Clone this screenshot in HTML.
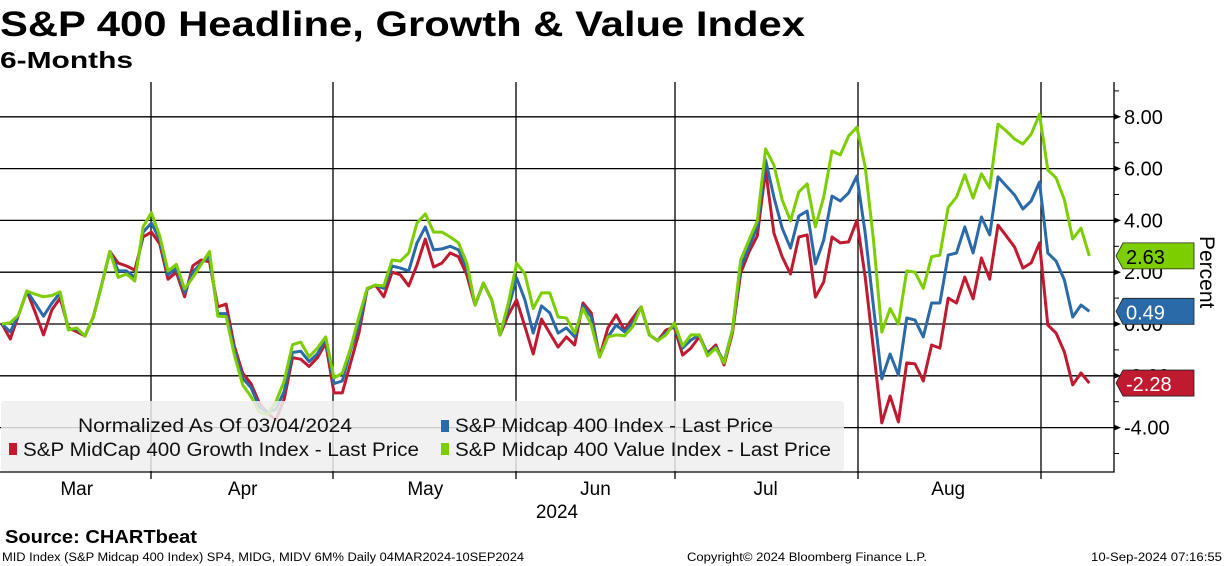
<!DOCTYPE html>
<html><head><meta charset="utf-8"><style>
body{margin:0;background:#fff;width:1224px;height:566px;overflow:hidden}
svg{display:block;font-family:"Liberation Sans",sans-serif}
</style></head><body>
<svg id="chart" width="1224" height="566">
<text x="0" y="36" font-size="35" font-weight="bold" textLength="805" lengthAdjust="spacingAndGlyphs">S&amp;P 400 Headline, Growth &amp; Value Index</text>
<text x="0" y="68" font-size="23" font-weight="bold" textLength="133" lengthAdjust="spacingAndGlyphs">6-Months</text>
<g id="grid"></g>
<g id="series"></g>
<g id="legend">
<rect x="1" y="401" width="843" height="70" rx="3" fill="#efefef" fill-opacity="0.85"/>
<text x="78" y="432" font-size="19" textLength="274" lengthAdjust="spacingAndGlyphs" fill="#111">Normalized As Of 03/04/2024</text>
<rect x="441" y="420" width="8" height="12" fill="#2a6aa8"/>
<text x="455" y="432" font-size="19" textLength="318" lengthAdjust="spacingAndGlyphs" fill="#111">S&amp;P Midcap 400 Index - Last Price</text>
<rect x="9" y="443" width="8" height="12" fill="#bf1a2f"/>
<text x="23" y="456" font-size="19" textLength="396" lengthAdjust="spacingAndGlyphs" fill="#111">S&amp;P MidCap 400 Growth Index - Last Price</text>
<rect x="441" y="443" width="8" height="12" fill="#7dce00"/>
<text x="455" y="456" font-size="19" textLength="376" lengthAdjust="spacingAndGlyphs" fill="#111">S&amp;P Midcap 400 Value Index - Last Price</text>
</g>
<g id="axes"></g>
<text x="1200" y="236" font-size="21" transform="rotate(90 1200 236)">Percent</text>
<text x="5" y="543" font-size="18" font-weight="bold" textLength="192" lengthAdjust="spacingAndGlyphs">Source: CHARTbeat</text>
<text x="2" y="561" font-size="11.5" textLength="522" lengthAdjust="spacingAndGlyphs">MID Index (S&amp;P Midcap 400 Index) SP4, MIDG, MIDV 6M%  Daily 04MAR2024-10SEP2024</text>
<text x="687" y="561" font-size="11.5" textLength="240" lengthAdjust="spacingAndGlyphs">Copyright© 2024 Bloomberg Finance L.P.</text>
<text x="1091" y="561" font-size="11.5" textLength="131" lengthAdjust="spacingAndGlyphs">10-Sep-2024 07:16:55</text>
</svg>
<script>
const growth=[0,-0.58,0.35,1.27,0.45,-0.42,0.54,1.0,-0.15,-0.3,-0.46,0.27,1.5,2.8,2.35,2.24,2.08,3.36,3.55,3.1,1.73,2.0,1.05,2.25,2.47,2.4,0.66,0.77,-0.87,-1.9,-2.3,-3.05,-3.45,-3.7,-2.9,-1.3,-1.36,-1.64,-1.3,-0.74,-2.66,-2.66,-1.5,-0.35,1.35,1.5,1.05,2.0,1.9,1.47,2.28,3.28,2.2,2.35,2.74,2.6,1.9,0.73,1.58,0.93,-0.42,0.35,0.93,-0.1,-1.16,0.19,-0.35,-0.89,-0.5,-0.81,0.81,0.42,-1.27,-0.15,0.35,-0.23,0.23,0.66,-0.42,-0.65,-0.23,-0.12,-1.2,-0.93,-0.5,-1.12,-0.81,-1.58,-0.35,1.97,2.78,3.4,5.95,3.51,2.59,1.93,3.36,3.44,1.04,1.62,3.36,3.13,3.17,4.0,1.81,-1.0,-3.82,-2.78,-3.78,-1.5,-1.54,-2.2,-0.81,-0.93,1.0,0.81,1.81,0.97,2.55,1.73,3.82,3.4,2.97,2.16,2.36,3.13,-0.04,-0.35,-1.08,-2.35,-1.89,-2.28];
const headline=[0,-0.3,0.35,1.27,0.8,0.3,0.8,1.2,-0.2,-0.2,-0.46,0.27,1.5,2.8,2.05,2.05,1.8,3.55,3.9,3.25,1.9,2.15,1.2,2.0,2.35,2.6,0.4,0.4,-1.0,-2.1,-2.45,-3.2,-3.4,-3.3,-2.6,-1.1,-1.05,-1.45,-1.15,-0.6,-2.3,-2.2,-1.0,-0.05,1.36,1.5,1.38,2.24,2.16,2.05,3.13,3.75,2.86,2.9,3.0,2.86,2.16,0.73,1.58,0.93,-0.42,0.6,1.78,0.93,-0.35,0.7,0.43,-0.35,-0.15,-0.5,0.7,0.27,-1.27,-0.5,-0.04,-0.3,0.04,0.66,-0.42,-0.65,-0.35,-0.05,-0.93,-0.62,-0.42,-1.15,-0.9,-1.45,-0.23,2.2,2.97,3.75,6.33,4.9,3.7,2.93,4.17,4.36,2.32,3.24,4.94,4.75,5.06,5.71,3.51,0.66,-2.12,-1.16,-1.97,0.23,0.15,-0.5,0.81,0.81,2.66,2.74,3.75,2.74,4.13,3.44,5.68,5.33,4.98,4.44,4.75,5.48,2.74,2.43,1.7,0.27,0.73,0.49];
const value=[0,0.05,0.35,1.27,1.15,1.05,1.1,1.24,-0.23,-0.15,-0.46,0.27,1.5,2.8,1.8,1.93,1.66,3.75,4.3,3.4,2.05,2.3,1.35,1.8,2.3,2.8,0.3,0.28,-1.2,-2.35,-2.8,-3.4,-3.5,-3.0,-2.2,-0.8,-0.7,-1.27,-0.93,-0.5,-2.08,-1.9,-0.93,0.27,1.38,1.5,1.47,2.47,2.43,2.74,3.9,4.25,3.55,3.55,3.36,3.13,2.35,0.73,1.58,0.93,-0.42,0.8,2.35,1.93,0.6,1.2,1.2,0.27,0.23,-0.35,0.6,-0.04,-1.27,-0.5,-0.42,-0.46,-0.1,0.66,-0.42,-0.65,-0.42,0.04,-0.85,-0.42,-0.42,-1.23,-0.93,-1.5,-0.23,2.47,3.24,3.98,6.76,6.14,4.79,3.98,5.1,5.41,3.75,4.9,6.68,6.53,7.26,7.6,6.06,3.24,-0.31,0.6,0,2.05,2.0,1.38,2.6,2.66,4.5,4.9,5.76,4.86,5.8,5.25,7.72,7.45,7.14,6.95,7.33,8.1,5.95,5.64,4.79,3.28,3.7,2.63];
const yTicks=[8,6,4,2,0,-2,-4];
const yTickLabels=["8.00","6.00","4.00","2.00","0.00","-2.00","-4.00"];
const monthLabels=["Mar","Apr","May","Jun","Jul","Aug"];
const monthStartIdx=[0,18,40,62,81,103,125];
const NS="http://www.w3.org/2000/svg";
const X=i=>2+i*8.3;
const Y=v=>324-v*25.9;
function mk(tag,attrs,parent){const e=document.createElementNS(NS,tag);for(const k in attrs)e.setAttribute(k,attrs[k]);parent.appendChild(e);return e;}
const grid=document.getElementById('grid'),axes=document.getElementById('axes'),ser=document.getElementById('series');
yTicks.forEach((t,i)=>{
 const l=mk('line',{x1:0,x2:1114,y1:Y(t),y2:Y(t),stroke:'#000','stroke-width':1.3},grid);
 
 
 const p=mk('path',{d:`M1114 ${Y(t)-3}L1121 ${Y(t)}L1114 ${Y(t)+3}Z`,fill:'#000'},axes);
 
 
 const tx=mk('text',{x:1124,y:Y(t)+7,'font-size':20},axes);
 tx.textContent=yTickLabels[i];
 
 
});
for(let v=-5;v<=9;v++){const m=mk('line',{x1:1114,x2:1119,y1:Y(v),y2:Y(v),stroke:'#000'},axes);
 
 }
monthStartIdx.slice(1).forEach(i=>{
 const x=Math.round(X(i))+(i>80?1:(i===40||i===62?-1:0));
 const l=mk('line',{x1:x,x2:x,y1:82,y2:479,stroke:'#000','stroke-width':1.3},grid);
 
 
});
monthLabels.forEach((m,k)=>{
 const cx=(X(monthStartIdx[k])+X(monthStartIdx[k+1]))/2;
 const t=mk('text',{x:cx,y:495,'font-size':19,'text-anchor':'middle'},axes);
 t.textContent=m;
 
 
});
const yr=mk('text',{x:557,y:518,'font-size':19,'text-anchor':'middle'},axes);yr.textContent='2024';


const ax=mk('path',{d:'M1114 82V472H0',fill:'none',stroke:'#000','stroke-width':1.3},axes);


function line(arr,color,name){
 const d=arr.map((v,i)=>(i?'L':'M')+X(i).toFixed(1)+' '+Y(v).toFixed(1)).join('');
 const p=mk('path',{d:d,fill:'none',stroke:color,'stroke-width':3,'stroke-linejoin':'round'},ser);
 
 
}
line(growth,'#bf1a2f','growth-line');
line(headline,'#2a6aa8','headline-line');
line(value,'#7dce00','value-line');
function tag(v,bg,fg,name){
 const y=Y(v);
 const g=mk('g',{},axes);
 
 
 mk('path',{d:`M1116 ${y}L1123 ${y-13}H1194V${y+13}H1123Z`,fill:bg,stroke:'#222','stroke-width':0.8},g);
 const t=mk('text',{x:1126,y:y+8,'font-size':20,fill:fg},g);
 t.textContent=v.toFixed(2);
}
tag(value[value.length-1],'#7dce00','#000','value-last-tag');
tag(headline[headline.length-1],'#2a6aa8','#fff','headline-last-tag');
tag(growth[growth.length-1],'#bf1a2f','#fff','growth-last-tag');
</script>
</body></html>
